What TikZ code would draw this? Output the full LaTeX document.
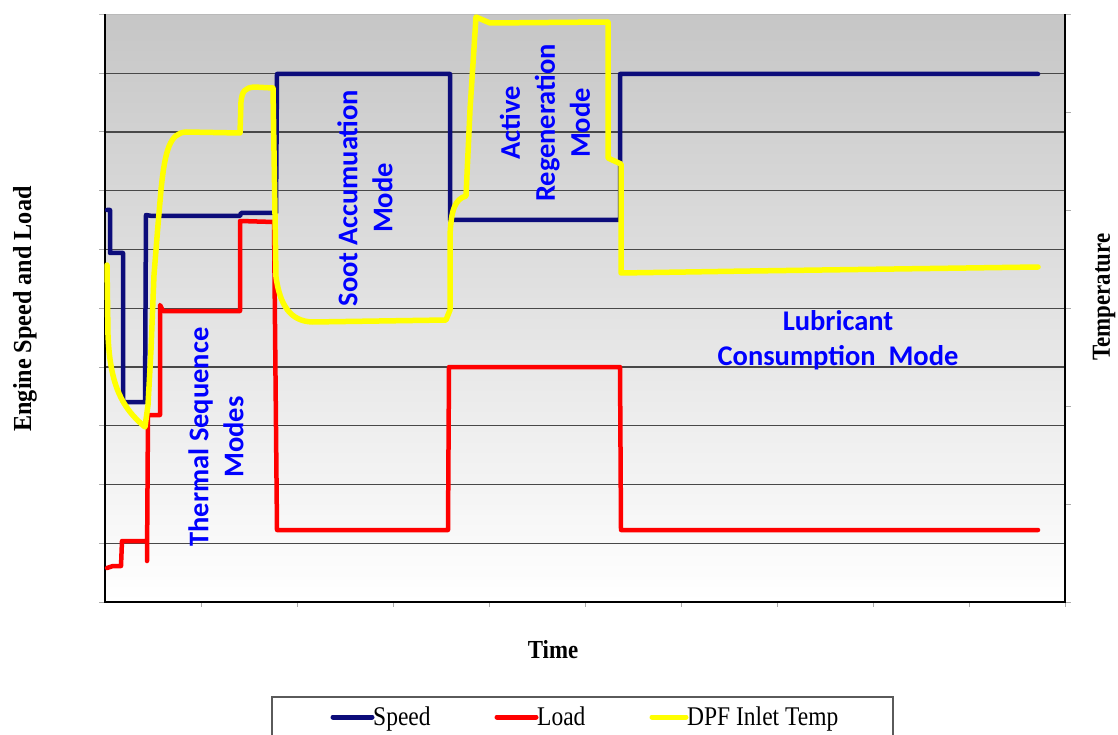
\documentclass[tikz,border=0pt]{standalone}
\usepackage{graphicx}
\usepackage{fontspec}
\setmainfont{Liberation Serif}
\newfontfamily\modefont{Carlito}
\definecolor{navyc}{RGB}{12,12,122}
\definecolor{gridc}{RGB}{72,72,72}
\definecolor{topgray}{RGB}{198,198,198}
\definecolor{tickc}{RGB}{170,170,170}
\definecolor{yel}{RGB}{255,255,0}
\newcommand\cond[2]{\scalebox{#1}[1]{#2}}
\tikzset{
  gridln/.style={draw=gridc, line width=1.3pt},
  axisln/.style={draw=black, line width=2pt},
  tickln/.style={draw=tickc, line width=1pt},
  spd/.style={draw=navyc, line width=4.5pt, line join=round, line cap=round},
  lod/.style={draw=red, line width=4.5pt, line join=round, line cap=round},
  tmp/.style={draw=yel, line width=5.5pt, line join=round, line cap=round},
  modelbl/.style={text=blue, font=\modefont\bfseries\fontsize{28.5}{35}\selectfont, align=center, inner sep=0pt},
  axlbl/.style={font=\bfseries\fontsize{26}{30}\selectfont, inner sep=0pt},
  leglbl/.style={font=\fontsize{27}{30}\selectfont, inner sep=0pt, anchor=base west},
  legline/.style={line width=5pt, line cap=round},
}
\begin{document}
\begin{tikzpicture}[x=1pt,y=-1pt]
\useasboundingbox (0,0) rectangle (1118,735);
\fill[white] (0,0) rectangle (1118,735);
% plot background
\shade[top color=topgray, bottom color=white] (105,14.5) rectangle (1065,602);
% top border
\draw[draw={rgb,255:red,185;green,185;blue,185}, line width=1.3pt] (99,14.5) -- (1071,14.5);
% grid lines
\foreach \yy in {73.3,132,190.8,249.5,308.3,367,425.8,484.5,543.3}
  \draw[gridln] (105,\yy) -- (1065,\yy);
% left ticks
\foreach \yy in {73.3,132,190.8,249.5,308.3,367,425.8,484.5,543.3,602}
  \draw[tickln] (99,\yy) -- (105,\yy);
% right ticks
\foreach \yy in {112.4,210.3,308.2,406.1,504,602}
  \draw[tickln] (1065,\yy) -- (1071,\yy);
% bottom ticks
\foreach \xx in {201,297,393,489,585,681,777,873,969,1065}
  \draw[tickln] (\xx,602) -- (\xx,607);
% axes
\draw[axisln] (105,14.5) -- (105,602) -- (1065,602) -- (1065,14.5);

% Speed
\draw[spd] (107,210) -- (110,210) -- (110,253) -- (123,253) -- (123,402) -- (145,402)
  -- (146,215) -- (152,216) -- (240,216) -- (241,213) -- (274,213) -- (276,213)
  -- (277,74) -- (450,74) -- (450,220) -- (620,220) -- (620,74) -- (1038,74);
% Load
\draw[lod] (107,568) -- (113,566) -- (121,566) -- (122,541) -- (147,541) -- (147,561)
  -- (148,415) -- (160,415) -- (160,305) -- (163,311) -- (240,311) -- (240,221)
  -- (274,222) -- (277,530) -- (448,530) -- (449,367) -- (620,367) -- (621,530) -- (1038,530);
% DPF inlet temperature
\draw[tmp] (107,265) -- (108,335) .. controls (110,385) and (122,408) .. (145,427)
  -- (148,405) -- (151,350) -- (154,275) -- (158,225) -- (161,190)
  .. controls (165,150) and (170,133) .. (186,132) -- (240,133) -- (241,102)
  .. controls (242,91) and (245,88) .. (254,87) -- (273,88) -- (276,277)
  .. controls (280,305) and (290,321) .. (312,322) -- (446,320) -- (450,310) -- (450,236)
  .. controls (451,210) and (455,199) .. (466,196) -- (470,110) -- (476,17) -- (490,23)
  -- (608,22) -- (608,158) -- (621,164) -- (621,273) -- (750,271) -- (1038,267);

% mode labels
\node[modelbl, rotate=90] (thermal) at (216,437) {Thermal Sequence\\Modes};
\node[modelbl, rotate=90] (soot) at (365,198) {Soot Accumuation\\Mode};
\node[modelbl, rotate=90] (active) at (545,123) {Active\\Regeneration\\Mode};
\node[modelbl] (lube) at (838,340) {Lubricant\\Consumption~~Mode};

% axis labels
\node[axlbl, rotate=90] (ylab) at (25,309) {\cond{0.93}{Engine Speed and Load}};
\node[axlbl, rotate=90] (y2lab) at (1104,297) {\cond{0.88}{Temperature}};
\node[axlbl] (xlab) at (553,650) {\cond{0.88}{Time}};

% legend
\draw[draw={rgb,255:red,90;green,90;blue,90}, line width=1.5pt] (272,740) -- (272,697) -- (893,697) -- (893,740);
\coordinate (s1) at (333,717); \coordinate (s2) at (372,717);
\coordinate (l1) at (497,717); \coordinate (l2) at (536,717);
\coordinate (d1) at (652,717); \coordinate (d2) at (686,717);
\draw[legline, navyc] (s1) -- (s2);
\draw[legline, red] (l1) -- (l2);
\draw[legline, yel] (d1) -- (d2);
\node[leglbl] (lspeed) at (373,725) {\cond{0.87}{Speed}};
\node[leglbl] (lload) at (537,725) {\cond{0.87}{Load}};
\node[leglbl] (ldpf) at (687,725) {\cond{0.87}{DPF Inlet Temp}};
\end{tikzpicture}
\end{document}
